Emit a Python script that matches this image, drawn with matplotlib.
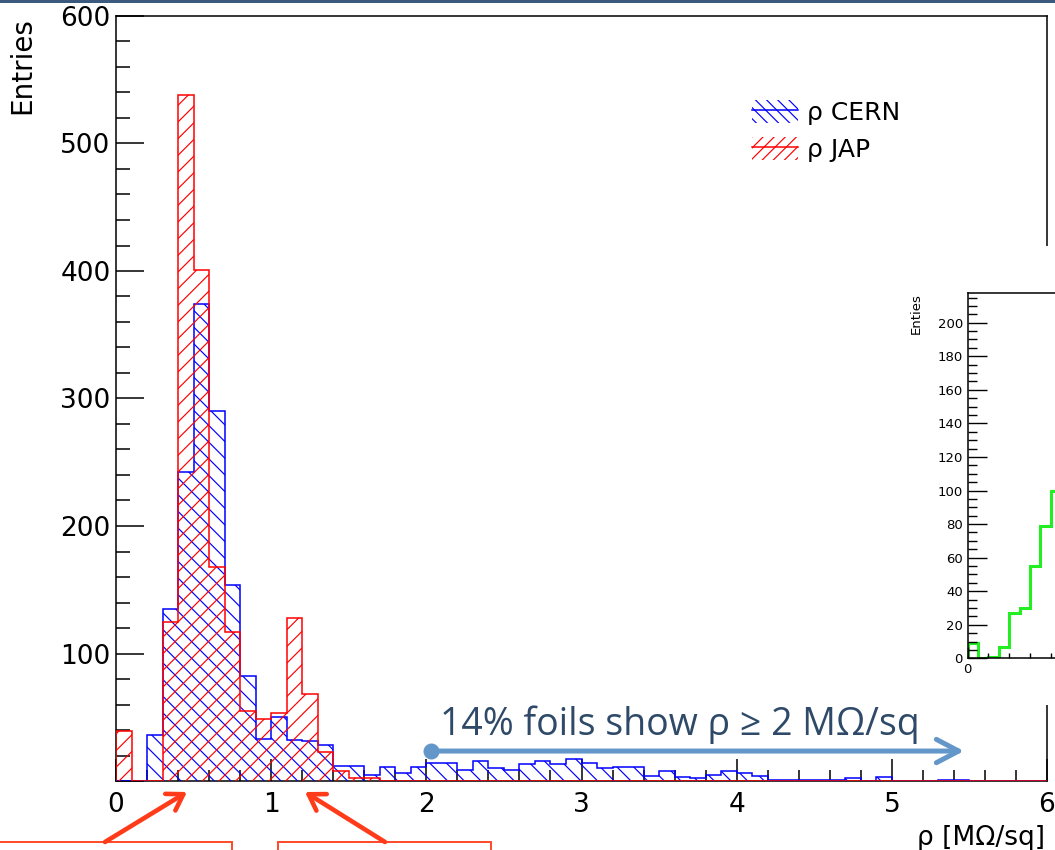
import numpy as np
import matplotlib
matplotlib.use("Agg")
import matplotlib.pyplot as plt
from matplotlib.patches import Patch, Rectangle, FancyArrowPatch
from matplotlib.lines import Line2D
from matplotlib.ticker import MultipleLocator, FixedLocator, FuncFormatter

# surface resistivity of the foils, 0.1 MOhm/sq bins from 0 to 6
edges = np.round(np.arange(0, 6.01, 0.1), 2)
rho_cern = [0, 0, 36, 135, 242, 374, 290, 154, 82, 33,
            50, 32, 31, 28, 12, 12, 5, 11, 6, 11,
            14, 14, 9, 16, 10, 9, 13, 16, 13, 17,
            14, 10, 11, 11, 4, 8, 3, 2, 5, 8,
            6, 4, 1, 1, 1, 1, 1, 2, 0, 3,
            0, 0, 0, 1, 1, 0, 0, 0, 0, 0]
rho_jap = [39, 0, 0, 125, 538, 401, 168, 117, 55, 49,
           53, 128, 68, 23, 8, 2, 2, 0, 0, 0,
           0, 0, 0, 0, 0, 0, 0, 0, 0, 0,
           0, 0, 0, 0, 0, 0, 0, 0, 0, 0,
           0, 0, 0, 0, 0, 0, 0, 0, 0, 0,
           0, 0, 0, 0, 0, 0, 0, 0, 0, 0]

# small histogram in the corner
inset_counts = [9, 0, 1, 7, 27, 30, 55, 79, 100]

note_text = "14% foils show ρ ≥ 2 MΩ/sq"
arrow_start, arrow_end, arrow_y = 2.03, 5.465, 23.5

W, H = 1055, 850
plt.rcParams['hatch.linewidth'] = 0.85

fig = plt.figure(figsize=(W / 100, H / 100), dpi=100)
ax = fig.add_axes([116 / W, 69 / H, 931 / W, 765 / H])

ax.stairs(rho_cern, edges, fill=True, facecolor='none', edgecolor='#0000ff',
          hatch='\\\\', linewidth=1.1, zorder=3)
ax.stairs(rho_jap, edges, fill=True, facecolor='none', edgecolor='#ff0000',
          hatch='//', linewidth=1.1, zorder=3.1)

ax.set_xlim(0, 6)
ax.set_ylim(0, 600)
ax.xaxis.set_major_locator(MultipleLocator(1))
ax.xaxis.set_minor_locator(MultipleLocator(0.2))
ax.yaxis.set_major_locator(MultipleLocator(100))
ax.yaxis.set_minor_locator(MultipleLocator(20))
ax.yaxis.set_major_formatter(FuncFormatter(lambda v, p: '' if v == 0 else f'{v:.0f}'))
ax.tick_params(which='both', direction='in', width=1.1, labelsize=19)
ax.tick_params(axis='y', which='major', length=20, pad=4)
ax.tick_params(axis='y', which='minor', length=10)
ax.tick_params(axis='x', which='major', length=16, pad=8)
ax.tick_params(axis='x', which='minor', length=8)
for s in ax.spines.values():
    s.set_linewidth(1.1)

# legend: hatch swatch with a line through it
h_cern = (Patch(facecolor='none', edgecolor='#0000ff', hatch='\\\\\\', linewidth=0),
          Line2D([], [], color='#0000ff', lw=1.1))
h_jap = (Patch(facecolor='none', edgecolor='#ff0000', hatch='///', linewidth=0),
         Line2D([], [], color='#ff0000', lw=1.1))
ax.legend([h_cern, h_jap], ['ρ CERN', 'ρ JAP'], loc='upper left',
          bbox_to_anchor=(0.683, 0.89), frameon=False, fontsize=18,
          borderpad=0, borderaxespad=0, handlelength=1.85, handleheight=1.0,
          handletextpad=0.35, labelspacing=0.5)

# arrow marking the high resistivity tail
ax.annotate('', xy=(arrow_end, arrow_y), xytext=(arrow_start, arrow_y),
            arrowprops=dict(arrowstyle='->, head_length=0.8, head_width=0.42',
                            mutation_scale=20, lw=3.6, color='#6396c9',
                            shrinkA=0, shrinkB=0), zorder=4)
ax.plot(arrow_start, arrow_y, 'o', ms=10.5, color='#6396c9', zorder=4)
ax.text(2.09, 36, note_text, fontsize=27, family=['Open Sans', 'DejaVu Sans'],
        color='#2e4a68', va='baseline')

fig.text(22 / W, 1 - 17 / H, 'Entries', rotation=90, ha='center', va='top', fontsize=20)
fig.text(1045 / W, 5 / H, 'ρ [MΩ/sq]', ha='right', va='baseline', fontsize=19)

# white panel behind the small plot
fig.add_artist(Rectangle((890 / W, (H - 705) / H), (W - 890) / W, (705 - 246) / H,
                         transform=fig.transFigure, facecolor='white',
                         edgecolor='none', zorder=1))

ins = fig.add_axes([967.7 / W, 191.7 / H, 0.4, 365.3 / H])
ins.set_zorder(2)
ins.stairs(inset_counts, np.arange(len(inset_counts) + 1), color='#22ee22', lw=2.2)
ins.set_xlim(0, 0.4 * W / 10.37)
ins.set_ylim(0, 217.7)
ins.xaxis.set_major_locator(FixedLocator([0]))
ins.xaxis.set_minor_locator(MultipleLocator(2))
ins.yaxis.set_major_locator(MultipleLocator(20))
ins.yaxis.set_minor_locator(MultipleLocator(5))
ins.tick_params(which='both', direction='in', width=1.0, labelsize=9.5, pad=3.5)
ins.tick_params(axis='y', which='major', length=13.7)
ins.tick_params(axis='y', which='minor', length=6.5)
ins.tick_params(axis='x', which='major', length=8)
ins.tick_params(axis='x', which='minor', length=3.6)
for s in ins.spines.values():
    s.set_linewidth(1.1)
fig.text(916 / W, 1 - 293 / H, 'Enties', rotation=90, ha='center', va='top', fontsize=9.5)

# slide decorations: header rule, callout boxes and arrows
fig.add_artist(Rectangle((0, 1 - 3 / H), 1, 3 / H, transform=fig.transFigure,
                         facecolor='#3b5a7d', edgecolor='none', zorder=3))
for x0, x1 in [(-10, 232), (278, 491)]:
    fig.add_artist(Rectangle((x0 / W, -0.05), (x1 - x0) / W, 0.05 + 8 / H,
                             transform=fig.transFigure, facecolor='none',
                             edgecolor='#ff4a2a', lw=1.4, zorder=3))
for (xa, ya), (xb, yb) in [((105, 842), (187, 792)), ((385, 842), (305, 792))]:
    fig.add_artist(FancyArrowPatch((xa / W, 1 - ya / H), (xb / W, 1 - yb / H),
                                   transform=fig.transFigure,
                                   arrowstyle='->, head_length=0.55, head_width=0.35',
                                   mutation_scale=20, lw=3.3, color='#ff3b1a',
                                   shrinkA=0, shrinkB=0, zorder=3))

fig.savefig('out.png', dpi=100)
